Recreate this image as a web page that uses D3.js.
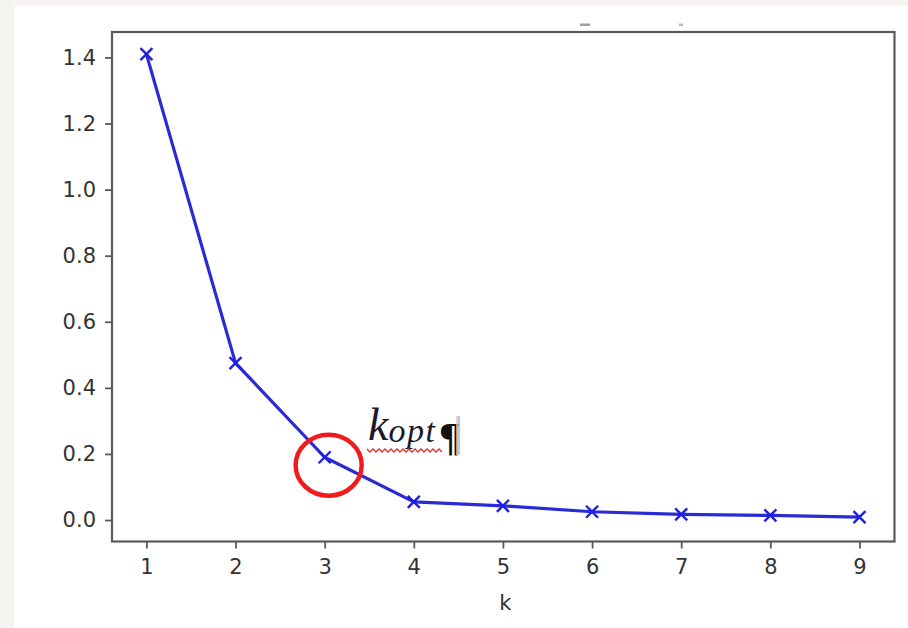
<!DOCTYPE html>
<html>
<head>
<meta charset="utf-8">
<script src="https://cdn.jsdelivr.net/npm/d3@7/dist/d3.min.js"></script>
<style>
  html, body { margin: 0; padding: 0; background: #f5f4f0; }
  svg { display: block; }
</style>
</head>
<body>
<script>
// ---- data ----
const kValues = [1, 2, 3, 4, 5, 6, 7, 8, 9];
const distortion = [1.41, 0.475, 0.19, 0.055, 0.043, 0.025, 0.017, 0.014, 0.009];
const xTicks = [1, 2, 3, 4, 5, 6, 7, 8, 9];
const yTicks = [0.0, 0.2, 0.4, 0.6, 0.8, 1.0, 1.2, 1.4];
const xLabel = "k";
const optK = 3;
const optValue = 0.166;

(function () {
const W = 908, H = 628;
const svg = d3.select("body").append("svg").attr("width", W).attr("height", H);

// white page area
svg.append("rect").attr("x", 14).attr("y", 6).attr("width", W - 14).attr("height", H - 6).attr("fill", "#ffffff");

const pLeft = 112, pRight = 894.5, pTop = 32, pBottom = 541.5;
const x = d3.scaleLinear().domain([0.614, 9.393]).range([pLeft, pRight]);
const y = d3.scaleLinear().domain([-0.065, 1.477]).range([pBottom, pTop]);

const textColor = "#333333";
const axisColor = "#5a5a5a";
const fontFam = "'DejaVu Sans', sans-serif";

// axes
const xAxis = d3.axisBottom(x).tickValues(xTicks).tickFormat(d3.format("d")).tickSize(7).tickPadding(11);
const yAxis = d3.axisLeft(y).tickValues(yTicks).tickFormat(d3.format(".1f")).tickSize(7).tickPadding(9);

const gx = svg.append("g").attr("transform", `translate(0,${pBottom})`).call(xAxis);
const gy = svg.append("g").attr("transform", `translate(${pLeft},0)`).call(yAxis);
[gx, gy].forEach(g => {
  g.select(".domain").remove();
  g.selectAll(".tick line").attr("stroke", axisColor).attr("stroke-width", 1.8);
  g.selectAll(".tick text").attr("fill", textColor).attr("font-family", fontFam).attr("font-size", 21);
});

// frame
svg.append("rect").attr("x", pLeft).attr("y", pTop).attr("width", pRight - pLeft).attr("height", pBottom - pTop)
  .attr("fill", "none").attr("stroke", axisColor).attr("stroke-width", 2.2);

// axis label
svg.append("text").attr("x", (pLeft + pRight) / 2 + 2).attr("y", 610).attr("text-anchor", "middle")
  .attr("fill", textColor).attr("font-family", fontFam).attr("font-size", 21).text(xLabel);

// faint title remnants above the frame
svg.append("rect").attr("x", 580).attr("y", 23.5).attr("width", 10).attr("height", 2.5).attr("fill", "#777").attr("opacity", 0.7);
svg.append("rect").attr("x", 679).attr("y", 23.5).attr("width", 4).attr("height", 2.5).attr("fill", "#888").attr("opacity", 0.6);

// line
const lineColor = "#2b2bd6";
const pts = kValues.map((k, i) => [k, distortion[i]]);
svg.append("path").datum(pts)
  .attr("fill", "none").attr("stroke", lineColor).attr("stroke-width", 3.2)
  .attr("stroke-linejoin", "round")
  .attr("d", d3.line().x(d => x(d[0])).y(d => y(d[1])));

// x markers
const ms = 6;
const mg = svg.append("g").attr("stroke", "#1f1fe0").attr("stroke-width", 2.4);
pts.forEach(d => {
  const cx = x(d[0]), cy = y(d[1]);
  mg.append("line").attr("x1", cx - ms).attr("y1", cy - ms).attr("x2", cx + ms).attr("y2", cy + ms);
  mg.append("line").attr("x1", cx - ms).attr("y1", cy + ms).attr("x2", cx + ms).attr("y2", cy - ms);
});

// red circle around the elbow
svg.append("ellipse")
  .attr("cx", x(optK) + 4).attr("cy", y(optValue))
  .attr("rx", 33).attr("ry", 30.5)
  .attr("fill", "none").attr("stroke", "#ee1c1c").attr("stroke-width", 4.5);

// k_opt annotation
const ann = svg.append("text").attr("x", 368).attr("y", 440)
  .attr("font-family", "'Liberation Serif', 'Times New Roman', serif").attr("font-style", "italic").attr("fill", "#1a1a2e");
ann.append("tspan").attr("font-size", 46).text("k");
ann.append("tspan").attr("font-size", 34).attr("dy", 2).attr("letter-spacing", 1.5).text("opt");

// wavy red underline
let wave = "M367,449";
for (let xx = 367, i = 0; xx < 440; xx += 3, i++) {
  wave += ` L${xx + 3},${i % 2 === 0 ? 452 : 449}`;
}
svg.append("path").attr("d", wave).attr("fill", "none").attr("stroke", "#d9352b").attr("stroke-width", 1.4);

// pilcrow
svg.append("text").attr("x", 439).attr("y", 450)
  .attr("font-family", "'Liberation Serif', serif").attr("font-weight", "bold").attr("font-size", 40)
  .attr("fill", "#111").text("¶");
// cursor colour fringe
svg.append("line").attr("x1", 457).attr("y1", 416).attr("x2", 457).attr("y2", 455).attr("stroke", "#e8c48a").attr("stroke-width", 1.5);
svg.append("line").attr("x1", 459).attr("y1", 416).attr("x2", 459).attr("y2", 455).attr("stroke", "#9fb0e8").attr("stroke-width", 1.5);
})();
</script>
</body>
</html>
